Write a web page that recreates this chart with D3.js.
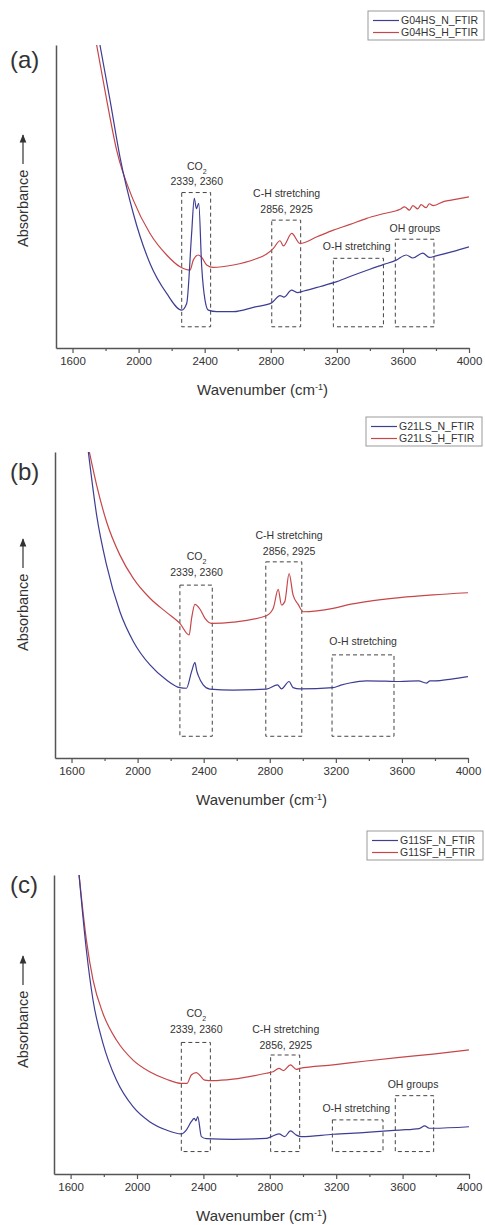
<!DOCTYPE html>
<html>
<head>
<meta charset="utf-8">
<script src="https://cdn.jsdelivr.net/npm/d3@7"></script>
<style>
  body { margin: 0; background: #fff; }
  text { font-family: "Liberation Sans", Arial, sans-serif; fill: #333; }
</style>
</head>
<body>
<div id="chart"></div>
<script>
// Axis ticks (wavenumber, cm-1)
const xTicks = [1600, 2000, 2400, 2800, 3200, 3600, 4000];
const xMinorTicks = [1800, 2200, 2600, 3000, 3400, 3800];

// Panel (a) - G04HS
const aNWave = [1766, 1827, 1887, 1968, 2069, 2170, 2261, 2291, 2321, 2337, 2350, 2364, 2382, 2402, 2422, 2473, 2574, 2700, 2805, 2856, 2880, 2926, 2960, 3000, 3100, 3200, 3300, 3400, 3480, 3560, 3620, 3660, 3720, 3760, 3800, 3900, 4000];
const aNAbs  = [1.0, 0.818, 0.631, 0.444, 0.279, 0.180, 0.125, 0.147, 0.378, 0.494, 0.46, 0.477, 0.268, 0.158, 0.125, 0.120, 0.120, 0.135, 0.149, 0.173, 0.168, 0.191, 0.183, 0.188, 0.203, 0.219, 0.24, 0.26, 0.275, 0.29, 0.307, 0.297, 0.313, 0.299, 0.304, 0.318, 0.334];
const aHWave = [1746, 1807, 1867, 1968, 2069, 2170, 2251, 2311, 2331, 2362, 2382, 2412, 2452, 2574, 2700, 2775, 2816, 2856, 2876, 2927, 2977, 3080, 3179, 3280, 3381, 3480, 3583, 3610, 3640, 3660, 3690, 3710, 3740, 3760, 3784, 3850, 3900, 4000];
const aHAbs  = [1.0, 0.818, 0.653, 0.488, 0.378, 0.307, 0.268, 0.257, 0.290, 0.307, 0.299, 0.274, 0.266, 0.274, 0.292, 0.310, 0.329, 0.354, 0.337, 0.378, 0.345, 0.367, 0.389, 0.408, 0.428, 0.443, 0.458, 0.466, 0.455, 0.470, 0.459, 0.473, 0.463, 0.476, 0.470, 0.484, 0.489, 0.499];
// boxes: [wave start, wave end, abs top, abs bottom]
const aBoxes = [[2261, 2436, 0.513, 0.070], [2806, 2981, 0.422, 0.070], [3179, 3482, 0.296, 0.070], [3554, 3788, 0.359, 0.070]];
const aNotes = [["CO2", 2352, 0.598], ["2339, 2360", 2352, 0.549], ["C-H stretching", 2896, 0.511], ["2856, 2925", 2896, 0.459], ["O-H stretching", 3320, 0.334], ["OH groups", 3673, 0.395]];
const aSeries = ["G04HS_N_FTIR", "G04HS_H_FTIR"];

// Panel (b) - G21LS
const bNWave = [1702, 1752, 1812, 1893, 1974, 2075, 2175, 2256, 2296, 2327, 2347, 2358, 2367, 2397, 2437, 2579, 2780, 2847, 2871, 2917, 2941, 2982, 3183, 3230, 3284, 3385, 3500, 3587, 3700, 3748, 3770, 3800, 3900, 4000];
const bNAbs  = [1.0, 0.794, 0.631, 0.478, 0.381, 0.304, 0.255, 0.230, 0.228, 0.283, 0.312, 0.285, 0.27, 0.239, 0.225, 0.222, 0.225, 0.239, 0.226, 0.250, 0.230, 0.226, 0.230, 0.238, 0.245, 0.252, 0.251, 0.250, 0.252, 0.245, 0.252, 0.252, 0.258, 0.266];
const bHWave = [1708, 1752, 1812, 1893, 1974, 2075, 2175, 2256, 2312, 2327, 2347, 2377, 2407, 2447, 2579, 2780, 2821, 2851, 2871, 2891, 2917, 2941, 2972, 3002, 3183, 3284, 3385, 3587, 3788, 4000];
const bHAbs  = [1.0, 0.892, 0.772, 0.663, 0.587, 0.522, 0.476, 0.440, 0.402, 0.457, 0.502, 0.487, 0.457, 0.440, 0.444, 0.465, 0.489, 0.551, 0.500, 0.511, 0.603, 0.533, 0.502, 0.478, 0.489, 0.502, 0.511, 0.524, 0.533, 0.540];
const bBoxes = [[2256, 2452, 0.565, 0.071], [2776, 2994, 0.641, 0.071], [3177, 3552, 0.337, 0.071]];
const bNotes = [["CO2", 2357, 0.658], ["2339, 2360", 2357, 0.606], ["C-H stretching", 2917, 0.728], ["2856, 2925", 2917, 0.677], ["O-H stretching", 3365, 0.381]];
const bSeries = ["G21LS_N_FTIR", "G21LS_H_FTIR"];

// Panel (c) - G11SF
const cNWave = [1651, 1695, 1735, 1795, 1876, 1976, 2076, 2177, 2267, 2297, 2327, 2345, 2355, 2366, 2388, 2418, 2578, 2779, 2809, 2855, 2890, 2924, 2960, 2990, 3181, 3381, 3582, 3700, 3733, 3760, 3783, 4000];
const cNAbs  = [1.0, 0.749, 0.582, 0.437, 0.314, 0.225, 0.175, 0.147, 0.134, 0.147, 0.175, 0.186, 0.178, 0.192, 0.125, 0.118, 0.116, 0.119, 0.125, 0.134, 0.125, 0.144, 0.130, 0.125, 0.133, 0.139, 0.147, 0.152, 0.161, 0.153, 0.153, 0.158];
const cHWave = [1651, 1695, 1735, 1795, 1876, 1976, 2076, 2177, 2267, 2301, 2327, 2357, 2377, 2408, 2458, 2578, 2779, 2819, 2855, 2883, 2924, 2960, 2980, 3181, 3381, 3582, 3783, 4000];
const cHAbs  = [1.0, 0.783, 0.649, 0.537, 0.448, 0.381, 0.342, 0.317, 0.303, 0.303, 0.331, 0.339, 0.331, 0.314, 0.312, 0.317, 0.337, 0.342, 0.353, 0.346, 0.365, 0.350, 0.353, 0.365, 0.378, 0.390, 0.401, 0.415];
const cBoxes = [[2267, 2442, 0.440, 0.075], [2805, 2980, 0.398, 0.075], [3177, 3482, 0.181, 0.075], [3556, 3787, 0.262, 0.075]];
const cNotes = [["CO2", 2357, 0.537], ["2339, 2360", 2357, 0.484], ["C-H stretching", 2896, 0.484], ["2856, 2925", 2896, 0.431], ["O-H stretching", 3321, 0.220], ["OH groups", 3663, 0.301]];
const cSeries = ["G11SF_N_FTIR", "G11SF_H_FTIR"];

const blue = '#3d3d94';
const red = '#c64649';

const panels = [
  { tag: '(a)', left: 56, right: 469, top: 45, bottom: 348, legY: 11, legX: 368, tagY: 60, absY: 191,
    n: [aNWave, aNAbs], h: [aHWave, aHAbs], boxes: aBoxes, notes: aNotes, series: aSeries },
  { tag: '(b)', left: 55, right: 468, top: 452, bottom: 758, legY: 417, legX: 366, tagY: 472, absY: 595,
    n: [bNWave, bNAbs], h: [bHWave, bHAbs], boxes: bBoxes, notes: bNotes, series: bSeries },
  { tag: '(c)', left: 54, right: 469, top: 875, bottom: 1174, legY: 831, legX: 367, tagY: 885, absY: 1012,
    n: [cNWave, cNAbs], h: [cHWave, cHAbs], boxes: cBoxes, notes: cNotes, series: cSeries }
];

const width = 485;
const height = 1225;

const svg = d3.select('#chart')
  .append('svg')
  .attr('width', width)
  .attr('height', height)
  .style('display', 'block');

svg.append('rect').attr('width', width).attr('height', height).attr('fill', '#fff');

const defs = svg.append('defs');
defs.append('marker')
  .attr('id', 'arrow')
  .attr('viewBox', '0 0 10 10')
  .attr('refX', 9).attr('refY', 5)
  .attr('markerWidth', 7).attr('markerHeight', 7)
  .attr('orient', 'auto')
  .append('path')
  .attr('d', 'M0,1 L10,5 L0,9 Z')
  .attr('fill', '#333');

panels.forEach((p, i) => {
  const x = d3.scaleLinear().domain([1500, 4000]).range([p.left, p.right]);
  const y = d3.scaleLinear().domain([0, 1]).range([p.bottom, p.top]);

  // Clip so the steep left edge stops at the top of the frame
  defs.append('clipPath').attr('id', 'clip' + i)
    .append('rect')
    .attr('x', p.left).attr('y', p.top)
    .attr('width', p.right - p.left).attr('height', p.bottom - p.top);

  const line = d3.line()
    .x(d => x(d[0]))
    .y(d => y(d[1]))
    .curve(d3.curveMonotoneX);

  const g = svg.append('g');

  // Annotation boxes
  g.selectAll('.box')
    .data(p.boxes)
    .enter()
    .append('rect')
    .attr('x', d => x(d[0]))
    .attr('y', d => y(d[2]))
    .attr('width', d => x(d[1]) - x(d[0]))
    .attr('height', d => y(d[3]) - y(d[2]))
    .attr('fill', 'none')
    .attr('stroke', '#444')
    .attr('stroke-width', 1)
    .attr('stroke-dasharray', '4,3');

  // Spectra
  [[p.h, red], [p.n, blue]].forEach(([s, col]) => {
    const pts = d3.zip(s[0], s[1]);
    g.append('path')
      .datum(pts)
      .attr('clip-path', `url(#clip${i})`)
      .attr('fill', 'none')
      .attr('stroke', col)
      .attr('stroke-width', 1.2)
      .attr('d', line);
  });

  // Peak labels
  p.notes.forEach(([label, wx, vy]) => {
    const t = g.append('text')
      .attr('x', x(wx))
      .attr('y', y(vy))
      .attr('dy', '0.35em')
      .attr('text-anchor', 'middle')
      .style('font-size', '10.5px');
    if (label === 'CO2') {
      t.append('tspan').text('CO');
      t.append('tspan').attr('baseline-shift', 'sub').style('font-size', '7px').text('2');
    } else {
      t.text(label);
    }
  });

  // Axes
  g.append('g')
    .attr('transform', `translate(0,${p.bottom})`)
    .call(d3.axisBottom(x).tickValues(xTicks).tickFormat(d3.format('d')).tickSize(5).tickSizeOuter(0).tickPadding(4))
    .call(a => a.select('.domain').attr('stroke', '#555').attr('stroke-width', 1.5))
    .call(a => a.selectAll('.tick line').attr('stroke', '#555').attr('stroke-width', 1.2))
    .call(a => a.selectAll('.tick text').style('font-size', '11.5px').attr('fill', '#333')
      .style('font-family', '"Liberation Sans", Arial, sans-serif'));

  g.append('g')
    .attr('transform', `translate(0,${p.bottom})`)
    .call(d3.axisBottom(x).tickValues(xMinorTicks).tickSize(3).tickFormat(''))
    .call(a => a.select('.domain').remove())
    .call(a => a.selectAll('.tick line').attr('stroke', '#555').attr('stroke-width', 1.2));

  g.append('g')
    .attr('transform', `translate(${p.left},0)`)
    .call(d3.axisLeft(y).tickValues([]).tickSizeOuter(0))
    .call(a => a.select('.domain').attr('stroke', '#555').attr('stroke-width', 1.5));

  // Axis titles
  const xt = g.append('text')
    .attr('x', (p.left + p.right) / 2)
    .attr('y', p.bottom + 47)
    .attr('text-anchor', 'middle')
    .style('font-size', '15px');
  xt.append('tspan').text('Wavenumber (cm');
  xt.append('tspan').attr('baseline-shift', 'super').style('font-size', '9px').text('-1');
  xt.append('tspan').text(')');

  const yt = g.append('g')
    .attr('transform', `translate(28,${p.absY}) rotate(-90)`);
  yt.append('text')
    .attr('x', -56)
    .attr('y', 0)
    .style('font-size', '14.5px')
    .text('Absorbance');
  yt.append('line')
    .attr('x1', 27).attr('x2', 56)
    .attr('y1', -5).attr('y2', -5)
    .attr('stroke', '#333')
    .attr('stroke-width', 1.2)
    .attr('marker-end', 'url(#arrow)');

  // Panel tag
  g.append('text')
    .attr('x', 10)
    .attr('y', p.tagY)
    .attr('dy', '0.35em')
    .style('font-size', '24px')
    .text(p.tag);

  // Legend
  const leg = g.append('g').attr('transform', `translate(${p.legX},${p.legY})`);
  leg.append('rect')
    .attr('width', 116).attr('height', 29)
    .attr('fill', '#fff')
    .attr('stroke', '#999')
    .attr('stroke-width', 1);
  [[blue, p.series[0]], [red, p.series[1]]].forEach(([col, name], k) => {
    const ly = 9.5 + k * 12;
    leg.append('line')
      .attr('x1', 5).attr('x2', 31)
      .attr('y1', ly).attr('y2', ly)
      .attr('stroke', col).attr('stroke-width', 1.2);
    leg.append('text')
      .attr('x', 33).attr('y', ly)
      .attr('dy', '0.35em')
      .style('font-size', '10.5px')
      .text(name);
  });
});
</script>
</body>
</html>
